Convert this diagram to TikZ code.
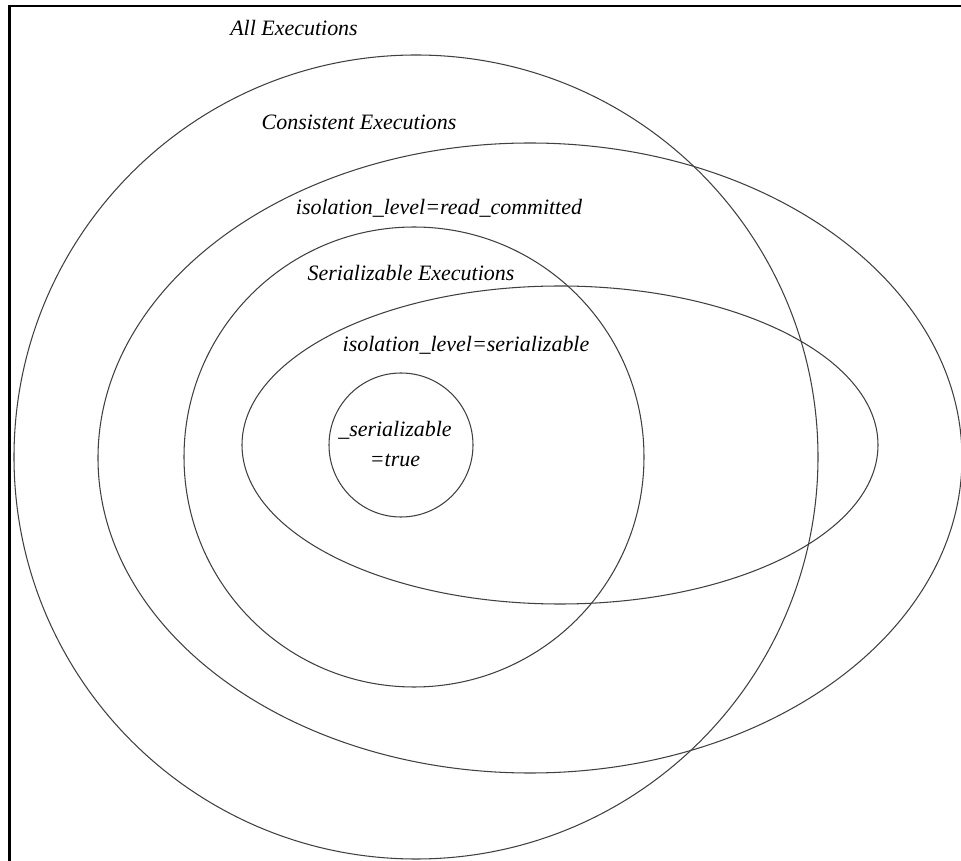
\documentclass[tikz,border=0pt]{standalone}
\usepackage{fontspec}
\setmainfont{Liberation Serif}

\begin{document}
\begin{tikzpicture}[x=0.02cm,y=-0.02cm,venn/.style={line width=0.6pt,black!75},settext/.style={font=\fontsize{12.5}{17}\selectfont\itshape,inner sep=0pt,align=center}]
  \useasboundingbox (0,0) rectangle (961,861);
  \draw[line width=1.3pt] (9.5,861) -- (9.5,6) -- (961,6);
  \draw[venn] (416,457) circle [radius=402];
  \draw[venn] (530,458) ellipse [x radius=432,y radius=315];
  \draw[venn] (414,457) circle [radius=230];
  \draw[venn] (560,445) ellipse [x radius=318,y radius=159];
  \draw[venn] (401,445) circle [radius=72];
  \node[settext] (all) at (294,28) {All Executions};
  \node[settext] (consistent) at (359,122) {Consistent Executions};
  \node[settext] (readc) at (439,208) {isolation\_level=read\_committed};
  \node[settext] (serexec) at (411,273) {Serializable Executions};
  \node[settext] (serlevel) at (466,345) {isolation\_level=serializable};
  \node[settext] (sertrue) at (395,444) {\_serializable\\=true};
\end{tikzpicture}
\end{document}
